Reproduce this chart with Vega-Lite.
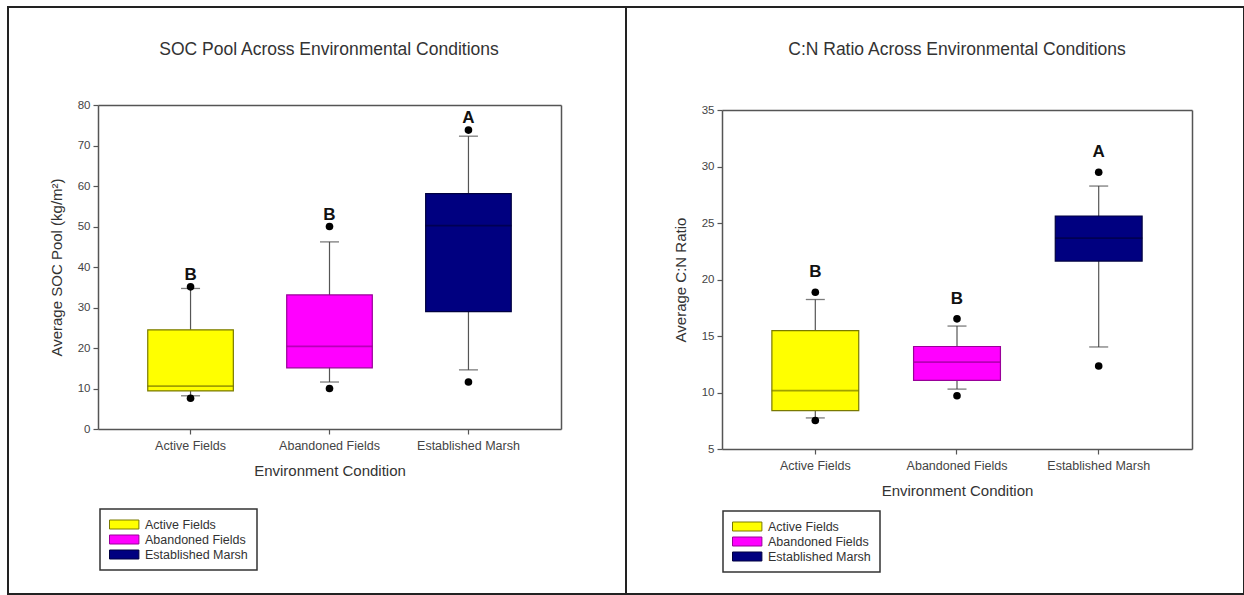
{
  "$schema": "https://vega.github.io/schema/vega-lite/v6.json",
  "background": "white",
  "padding": {"left": 7, "top": 6, "right": 0, "bottom": 0},
  "config": {
    "font": "Liberation Sans",
    "view": {"stroke": "#222", "strokeWidth": 2},
    "axis": {
      "grid": false,
      "domainColor": "#555",
      "domainWidth": 1.5,
      "tickColor": "#555",
      "tickWidth": 1.2,
      "tickSize": 5,
      "labelColor": "#444",
      "labelFont": "Liberation Sans",
      "titleFont": "Liberation Sans",
      "titleFontSize": 15,
      "titleFontWeight": "normal",
      "titleColor": "#333"
    },
    "axisX": {"labelFontSize": 12.5, "labelAngle": 0, "labelPadding": 5, "titlePadding": 12},
    "axisY": {"labelFontSize": 11.5, "labelPadding": 3, "titlePadding": 13},
    "legend": {
      "title": null,
      "symbolType": "M-1,-0.75H3.9V0.75H-1Z",
      "symbolSize": 144,
      "symbolStrokeWidth": 1,
      "labelOffset": 23,
      "labelFontSize": 12.5,
      "labelColor": "#333",
      "labelFont": "Liberation Sans",
      "padding": 9,
      "rowPadding": 2,
      "strokeColor": "#333",
      "strokeWidth": 1.5
    },
    "title": {"font": "Liberation Sans", "fontSize": 17.5, "fontWeight": "normal", "color": "#333", "anchor": "middle"}
  },
  "datasets": {
    "soc": [
      {"cat": "Active Fields", "lower": 8.2, "q1": 9.4, "median": 10.6, "q3": 24.5, "upper": 34.7, "outlo": 7.6, "outhi": 35.1, "group": "B"},
      {"cat": "Abandoned Fields", "lower": 11.6, "q1": 15.1, "median": 20.4, "q3": 33.1, "upper": 46.2, "outlo": 10.0, "outhi": 50.0, "group": "B"},
      {"cat": "Established Marsh", "lower": 14.6, "q1": 29.0, "median": 50.2, "q3": 58.1, "upper": 72.3, "outlo": 11.6, "outhi": 73.8, "group": "A"}
    ],
    "cn": [
      {"cat": "Active Fields", "lower": 7.75, "q1": 8.39, "median": 10.17, "q3": 15.48, "upper": 18.23, "outlo": 7.52, "outhi": 18.87, "group": "B"},
      {"cat": "Abandoned Fields", "lower": 10.3, "q1": 11.08, "median": 12.69, "q3": 14.07, "upper": 15.88, "outlo": 9.71, "outhi": 16.52, "group": "B"},
      {"cat": "Established Marsh", "lower": 14.03, "q1": 21.63, "median": 23.67, "q3": 25.62, "upper": 28.27, "outlo": 12.35, "outhi": 29.49, "group": "A"}
    ]
  },
  "spacing": 0,
  "bounds": "flush",
  "resolve": {
    "scale": {"fill": "independent", "stroke": "independent"},
    "legend": {"fill": "independent", "stroke": "independent"}
  },
  "hconcat": [
    {
      "width": 618,
      "height": 587,
      "data": {"name": "soc"},
      "title": {"text": "SOC Pool Across Environmental Conditions", "offset": -51, "dx": 12},
      "resolve": {"axis": {"x": "independent", "y": "independent"}},
      "layer": [
        {
          "layer": [
            {
              "mark": {"type": "rule", "color": "#555", "strokeWidth": 1.2},
              "encoding": {
                "x": {"field": "cat", "type": "nominal",
                  "scale": {"domain": ["Active Fields", "Abandoned Fields", "Established Marsh"], "range": [90, 553], "paddingInner": 0.384, "paddingOuter": 0.358},
                  "axis": {"orient": "bottom", "offset": -165, "title": "Environment Condition"}},
                "y": {"field": "lower", "type": "quantitative",
                  "scale": {"domain": [0, 80], "range": [422, 98], "nice": false, "zero": false},
                  "axis": {"orient": "left", "offset": -90, "values": [0, 10, 20, 30, 40, 50, 60, 70, 80], "title": "Average SOC Pool (kg/m²)"}},
                "y2": {"field": "upper"}
              }
            },
            {
              "mark": {"type": "tick", "color": "#444", "size": 19, "thickness": 1.3},
              "encoding": {
                "x": {"field": "cat", "type": "nominal"},
                "y": {"field": "lower", "type": "quantitative"}
              }
            },
            {
              "mark": {"type": "tick", "color": "#444", "size": 19, "thickness": 1.3},
              "encoding": {
                "x": {"field": "cat", "type": "nominal"},
                "y": {"field": "upper", "type": "quantitative"}
              }
            },
            {
              "mark": {"type": "bar", "strokeWidth": 1.2},
              "encoding": {
                "x": {"field": "cat", "type": "nominal"},
                "y": {"field": "q1", "type": "quantitative"},
                "y2": {"field": "q3"},
                "fill": {"field": "cat", "type": "nominal",
                  "scale": {"domain": ["Active Fields", "Abandoned Fields", "Established Marsh"], "range": ["#ffff00", "#ff00ff", "#000080"]},
                  "legend": {"orient": "none", "legendX": 92, "legendY": 502}},
                "stroke": {"field": "cat", "type": "nominal",
                  "scale": {"domain": ["Active Fields", "Abandoned Fields", "Established Marsh"], "range": ["#7a7a00", "#990099", "#000040"]},
                  "legend": {"orient": "none", "legendX": 92, "legendY": 502}}
              }
            },
            {
              "mark": {"type": "tick", "size": 85, "thickness": 0.5, "fill": "transparent", "strokeWidth": 1.2},
              "encoding": {
                "x": {"field": "cat", "type": "nominal"},
                "y": {"field": "median", "type": "quantitative"},
                "stroke": {"field": "cat", "type": "nominal"}
              }
            },
            {
              "mark": {"type": "point", "filled": true, "color": "black", "size": 58, "opacity": 1},
              "encoding": {
                "x": {"field": "cat", "type": "nominal"},
                "y": {"field": "outlo", "type": "quantitative"}
              }
            },
            {
              "mark": {"type": "point", "filled": true, "color": "black", "size": 58, "opacity": 1},
              "encoding": {
                "x": {"field": "cat", "type": "nominal"},
                "y": {"field": "outhi", "type": "quantitative"}
              }
            },
            {
              "mark": {"type": "text", "fontSize": 17, "fontWeight": "bold", "color": "#111", "baseline": "middle", "dy": -12},
              "encoding": {
                "x": {"field": "cat", "type": "nominal"},
                "y": {"field": "outhi", "type": "quantitative"},
                "text": {"field": "group"}
              }
            }
          ]
        },
        {
          "mark": {"type": "point", "opacity": 0},
          "encoding": {
            "x": {"field": "cat", "type": "nominal",
              "axis": {"orient": "top", "offset": -98, "labels": false, "ticks": false, "title": null}},
            "y": {"field": "median", "type": "quantitative",
              "axis": {"orient": "right", "offset": -65, "labels": false, "ticks": false, "title": null}}
          }
        }
      ]
    },
    {
      "width": 618,
      "height": 587,
      "data": {"name": "cn"},
      "title": {"text": "C:N Ratio Across Environmental Conditions", "offset": -51, "dx": 22},
      "resolve": {"axis": {"x": "independent", "y": "independent"}},
      "layer": [
        {
          "layer": [
            {
              "mark": {"type": "rule", "color": "#555", "strokeWidth": 1.2},
              "encoding": {
                "x": {"field": "cat", "type": "nominal",
                  "scale": {"domain": ["Active Fields", "Abandoned Fields", "Established Marsh"], "range": [96, 566], "paddingInner": 0.387, "paddingOuter": 0.352},
                  "axis": {"orient": "bottom", "offset": -145, "title": "Environment Condition"}},
                "y": {"field": "lower", "type": "quantitative",
                  "scale": {"domain": [5, 35], "range": [442, 103], "nice": false, "zero": false},
                  "axis": {"orient": "left", "offset": -96, "values": [5, 10, 15, 20, 25, 30, 35], "title": "Average C:N Ratio"}},
                "y2": {"field": "upper"}
              }
            },
            {
              "mark": {"type": "tick", "color": "#444", "size": 19, "thickness": 1.3},
              "encoding": {
                "x": {"field": "cat", "type": "nominal"},
                "y": {"field": "lower", "type": "quantitative"}
              }
            },
            {
              "mark": {"type": "tick", "color": "#444", "size": 19, "thickness": 1.3},
              "encoding": {
                "x": {"field": "cat", "type": "nominal"},
                "y": {"field": "upper", "type": "quantitative"}
              }
            },
            {
              "mark": {"type": "bar", "strokeWidth": 1.2},
              "encoding": {
                "x": {"field": "cat", "type": "nominal"},
                "y": {"field": "q1", "type": "quantitative"},
                "y2": {"field": "q3"},
                "fill": {"field": "cat", "type": "nominal",
                  "scale": {"domain": ["Active Fields", "Abandoned Fields", "Established Marsh"], "range": ["#ffff00", "#ff00ff", "#000080"]},
                  "legend": {"orient": "none", "legendX": 97, "legendY": 504}},
                "stroke": {"field": "cat", "type": "nominal",
                  "scale": {"domain": ["Active Fields", "Abandoned Fields", "Established Marsh"], "range": ["#7a7a00", "#990099", "#000040"]},
                  "legend": {"orient": "none", "legendX": 97, "legendY": 504}}
              }
            },
            {
              "mark": {"type": "tick", "size": 86, "thickness": 0.5, "fill": "transparent", "strokeWidth": 1.2},
              "encoding": {
                "x": {"field": "cat", "type": "nominal"},
                "y": {"field": "median", "type": "quantitative"},
                "stroke": {"field": "cat", "type": "nominal"}
              }
            },
            {
              "mark": {"type": "point", "filled": true, "color": "black", "size": 58, "opacity": 1},
              "encoding": {
                "x": {"field": "cat", "type": "nominal"},
                "y": {"field": "outlo", "type": "quantitative"}
              }
            },
            {
              "mark": {"type": "point", "filled": true, "color": "black", "size": 58, "opacity": 1},
              "encoding": {
                "x": {"field": "cat", "type": "nominal"},
                "y": {"field": "outhi", "type": "quantitative"}
              }
            },
            {
              "mark": {"type": "text", "fontSize": 17, "fontWeight": "bold", "color": "#111", "baseline": "middle", "dy": -20},
              "encoding": {
                "x": {"field": "cat", "type": "nominal"},
                "y": {"field": "outhi", "type": "quantitative"},
                "text": {"field": "group"}
              }
            }
          ]
        },
        {
          "mark": {"type": "point", "opacity": 0},
          "encoding": {
            "x": {"field": "cat", "type": "nominal",
              "axis": {"orient": "top", "offset": -103, "labels": false, "ticks": false, "title": null}},
            "y": {"field": "median", "type": "quantitative",
              "axis": {"orient": "right", "offset": -52, "labels": false, "ticks": false, "title": null}}
          }
        }
      ]
    }
  ]
}
